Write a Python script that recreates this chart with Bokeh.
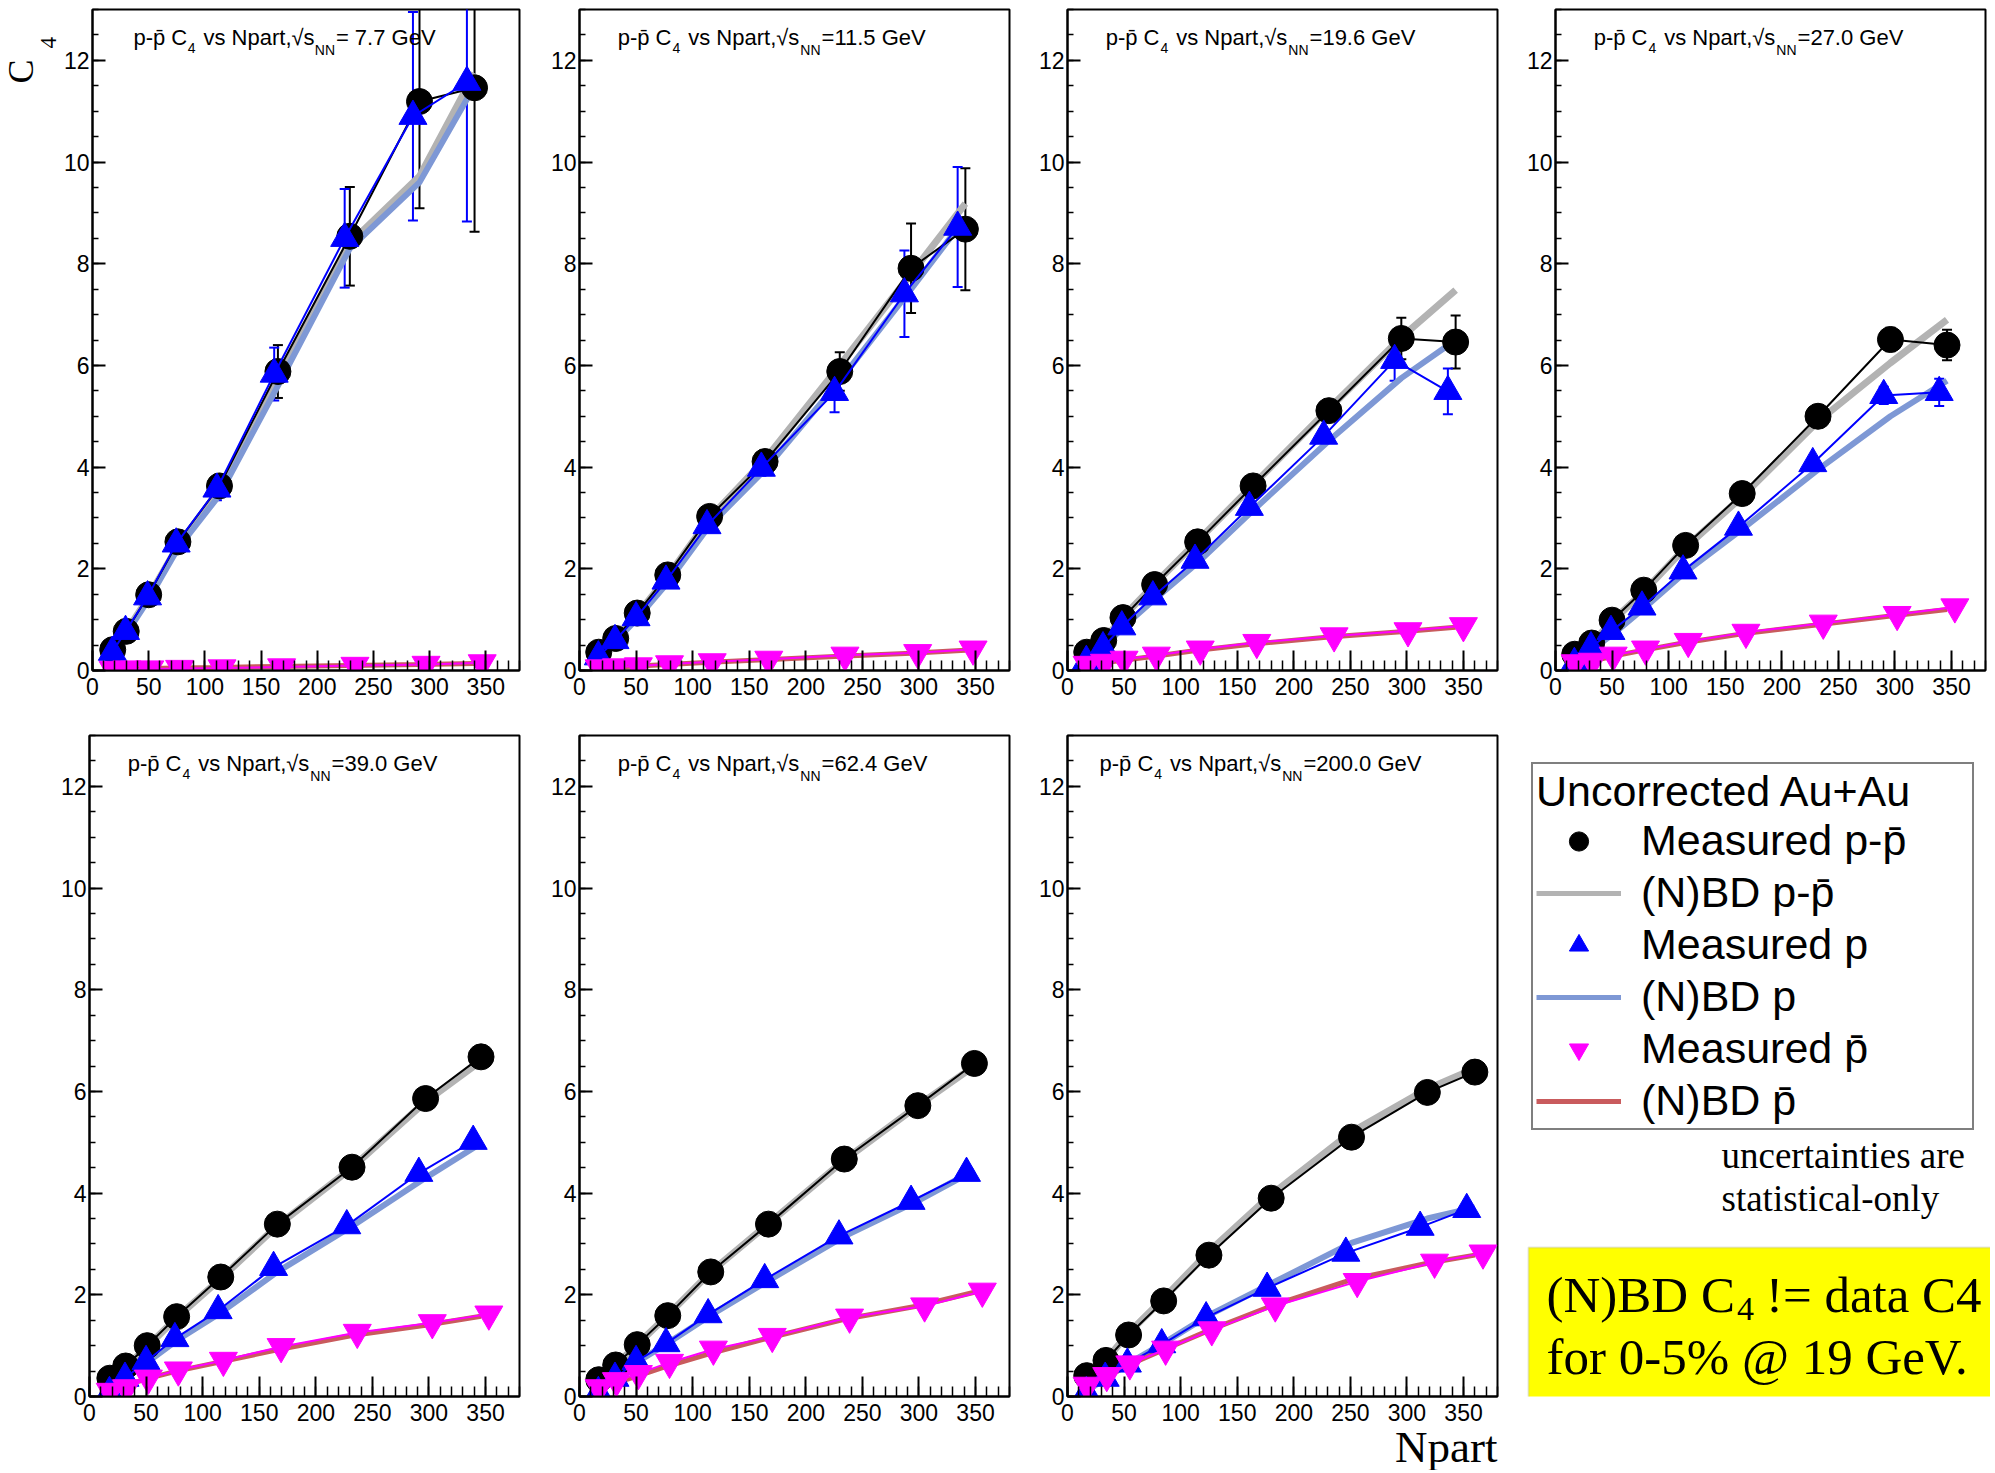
from bokeh.plotting import figure
from bokeh.models import (Range1d, SingleIntervalTicker, ColumnDataSource, Whisker,
                          TeeHead, Label, Legend, LegendItem, BoxAnnotation)
from bokeh.layouts import row, column
from bokeh.embed import file_html
from bokeh.resources import INLINE

# ------------------------------------------------------------------ data
energy_text = ["= 7.7 GeV", "=11.5 GeV", "=19.6 GeV", "=27.0 GeV",
               "=39.0 GeV", "=62.4 GeV", "=200.0 GeV"]

# sqrt(sNN) = 7.7 GeV
npart_7p7 = [18, 30, 50, 76, 113, 165, 229, 291, 340]
ppbar_7p7 = [0.41, 0.77, 1.49, 2.53, 3.63, 5.88, 8.54, 11.19, 11.46]
ppbar_err_7p7 = [0.03, 0.05, 0.08, 0.12, 0.22, 0.52, 0.97, 2.10, 2.83]
ppbar_nbd_7p7 = [0.40, 0.76, 1.45, 2.45, 3.50, 5.70, 8.40, 9.72, 11.75]
p_7p7 = [0.36, 0.77, 1.45, 2.49, 3.57, 5.83, 8.50, 10.90, 11.57]
p_err_7p7 = [0.03, 0.05, 0.08, 0.12, 0.22, 0.52, 0.97, 2.05, 2.74]
p_nbd_7p7 = [0.36, 0.72, 1.40, 2.40, 3.45, 5.60, 8.30, 9.60, 11.50]
pbar_7p7 = [0.02, 0.03, 0.03, 0.04, 0.05, 0.07, 0.10, 0.12, 0.15]
pbar_nbd_7p7 = [0.02, 0.03, 0.04, 0.05, 0.06, 0.08, 0.10, 0.12, 0.14]

# 11.5 GeV
npart_11p5 = [17, 32, 51, 78, 115, 164, 230, 293, 341]
ppbar_11p5 = [0.36, 0.63, 1.13, 1.88, 3.03, 4.11, 5.88, 7.91, 8.68]
ppbar_err_11p5 = [0.03, 0.04, 0.06, 0.08, 0.10, 0.12, 0.38, 0.88, 1.20]
ppbar_nbd_11p5 = [0.36, 0.63, 1.10, 1.85, 3.00, 4.15, 6.00, 7.80, 9.18]
p_11p5 = [0.27, 0.59, 1.04, 1.76, 2.85, 3.98, 5.47, 7.41, 8.72]
p_err_11p5 = [0.03, 0.04, 0.06, 0.08, 0.10, 0.15, 0.39, 0.85, 1.18]
p_nbd_11p5 = [0.27, 0.58, 1.02, 1.73, 2.85, 3.95, 5.70, 7.50, 8.90]
pbar_11p5 = [0.05, 0.07, 0.09, 0.13, 0.17, 0.22, 0.30, 0.35, 0.42]
pbar_nbd_11p5 = [0.05, 0.07, 0.09, 0.12, 0.16, 0.21, 0.28, 0.34, 0.40]

# 19.6 GeV
npart_19p6 = [17, 32, 49, 77, 115, 164, 231, 295, 343]
ppbar_19p6 = [0.36, 0.59, 1.04, 1.69, 2.53, 3.63, 5.11, 6.53, 6.46]
ppbar_err_19p6 = [0.02, 0.03, 0.04, 0.05, 0.07, 0.09, 0.14, 0.41, 0.52]
ppbar_nbd_19p6 = [0.36, 0.60, 1.05, 1.70, 2.55, 3.65, 5.15, 6.55, 7.48]
p_19p6 = [0.18, 0.45, 0.86, 1.45, 2.17, 3.21, 4.61, 6.10, 5.49]
p_err_19p6 = [0.02, 0.03, 0.04, 0.05, 0.07, 0.09, 0.13, 0.40, 0.45]
p_nbd_19p6 = [0.20, 0.45, 0.85, 1.40, 2.12, 3.15, 4.52, 5.75, 6.50]
pbar_19p6 = [0.12, 0.16, 0.22, 0.30, 0.42, 0.55, 0.68, 0.78, 0.88]
pbar_nbd_19p6 = [0.10, 0.15, 0.20, 0.28, 0.40, 0.52, 0.66, 0.76, 0.85]

# 27.0 GeV
npart_27 = [17, 32, 50, 78, 115, 165, 232, 296, 346]
ppbar_27 = [0.32, 0.54, 0.99, 1.58, 2.46, 3.48, 5.00, 6.51, 6.40]
ppbar_err_27 = [0.02, 0.03, 0.04, 0.05, 0.06, 0.08, 0.10, 0.23, 0.30]
ppbar_nbd_27 = [0.30, 0.54, 0.97, 1.55, 2.42, 3.42, 4.90, 6.05, 6.90]
p_27 = [0.14, 0.45, 0.77, 1.25, 1.96, 2.82, 4.07, 5.41, 5.47]
p_err_27 = [0.02, 0.03, 0.04, 0.05, 0.06, 0.08, 0.10, 0.17, 0.27]
p_nbd_27 = [0.14, 0.41, 0.70, 1.22, 1.94, 2.78, 3.95, 5.00, 5.70]
pbar_27 = [0.15, 0.18, 0.30, 0.42, 0.57, 0.75, 0.93, 1.10, 1.25]
pbar_nbd_27 = [0.12, 0.18, 0.28, 0.40, 0.55, 0.72, 0.90, 1.07, 1.20]

# 39.0 GeV
npart_39 = [18, 32, 51, 77, 116, 166, 232, 297, 346]
ppbar_39 = [0.36, 0.60, 1.00, 1.57, 2.35, 3.39, 4.51, 5.86, 6.68]
ppbar_err_39 = [0.02, 0.02, 0.03, 0.04, 0.05, 0.06, 0.08, 0.10, 0.12]
ppbar_nbd_39 = [0.33, 0.58, 0.98, 1.55, 2.32, 3.36, 4.50, 5.80, 6.60]
p_39 = [0.08, 0.36, 0.69, 1.14, 1.69, 2.54, 3.36, 4.39, 5.02]
p_err_39 = [0.02, 0.02, 0.03, 0.04, 0.05, 0.06, 0.07, 0.09, 0.11]
p_nbd_39 = [0.10, 0.35, 0.67, 1.10, 1.65, 2.45, 3.35, 4.30, 4.98]
pbar_39 = [0.10, 0.17, 0.36, 0.52, 0.71, 0.98, 1.26, 1.45, 1.62]
pbar_nbd_39 = [0.15, 0.22, 0.35, 0.50, 0.68, 0.92, 1.20, 1.40, 1.58]

# 62.4 GeV
npart_62 = [17, 32, 51, 78, 116, 167, 234, 299, 349]
ppbar_62 = [0.33, 0.62, 1.02, 1.59, 2.45, 3.39, 4.67, 5.72, 6.55]
ppbar_err_62 = [0.02, 0.02, 0.03, 0.04, 0.05, 0.06, 0.07, 0.08, 0.10]
ppbar_nbd_62 = [0.33, 0.62, 1.02, 1.60, 2.45, 3.40, 4.65, 5.72, 6.50]
p_62 = [0.08, 0.36, 0.69, 1.04, 1.61, 2.30, 3.16, 3.84, 4.39]
p_err_62 = [0.02, 0.02, 0.03, 0.04, 0.05, 0.06, 0.07, 0.08, 0.09]
p_nbd_62 = [0.10, 0.36, 0.68, 1.05, 1.60, 2.28, 3.15, 3.85, 4.45]
pbar_62 = [0.17, 0.31, 0.45, 0.67, 0.93, 1.18, 1.56, 1.78, 2.07]
pbar_nbd_62 = [0.17, 0.27, 0.40, 0.60, 0.85, 1.15, 1.52, 1.78, 2.05]

# 200.0 GeV
npart_200 = [17, 34, 54, 85, 125, 180, 251, 318, 360]
ppbar_200 = [0.41, 0.71, 1.21, 1.88, 2.78, 3.90, 5.10, 5.98, 6.38]
ppbar_err_200 = [0.02, 0.02, 0.03, 0.04, 0.05, 0.06, 0.07, 0.08, 0.09]
ppbar_nbd_200 = [0.40, 0.72, 1.25, 1.93, 2.85, 3.97, 5.20, 6.05, 6.45]
p_200 = [0.08, 0.36, 0.64, 1.02, 1.55, 2.13, 2.82, 3.33, 3.68]
p_err_200 = [0.02, 0.02, 0.03, 0.04, 0.05, 0.06, 0.07, 0.08, 0.09]
p_nbd_200 = [0.10, 0.37, 0.65, 1.05, 1.60, 2.22, 3.02, 3.50, 3.72]
pbar_200 = [0.22, 0.41, 0.64, 0.93, 1.31, 1.78, 2.26, 2.64, 2.82]
pbar_nbd_200 = [0.20, 0.38, 0.62, 0.92, 1.30, 1.78, 2.30, 2.62, 2.78]

panels = [
    (energy_text[0], npart_7p7, ppbar_7p7, ppbar_err_7p7, ppbar_nbd_7p7, p_7p7, p_err_7p7, p_nbd_7p7, pbar_7p7, pbar_nbd_7p7),
    (energy_text[1], npart_11p5, ppbar_11p5, ppbar_err_11p5, ppbar_nbd_11p5, p_11p5, p_err_11p5, p_nbd_11p5, pbar_11p5, pbar_nbd_11p5),
    (energy_text[2], npart_19p6, ppbar_19p6, ppbar_err_19p6, ppbar_nbd_19p6, p_19p6, p_err_19p6, p_nbd_19p6, pbar_19p6, pbar_nbd_19p6),
    (energy_text[3], npart_27, ppbar_27, ppbar_err_27, ppbar_nbd_27, p_27, p_err_27, p_nbd_27, pbar_27, pbar_nbd_27),
    (energy_text[4], npart_39, ppbar_39, ppbar_err_39, ppbar_nbd_39, p_39, p_err_39, p_nbd_39, pbar_39, pbar_nbd_39),
    (energy_text[5], npart_62, ppbar_62, ppbar_err_62, ppbar_nbd_62, p_62, p_err_62, p_nbd_62, pbar_62, pbar_nbd_62),
    (energy_text[6], npart_200, ppbar_200, ppbar_err_200, ppbar_nbd_200, p_200, p_err_200, p_nbd_200, pbar_200, pbar_nbd_200),
]

# ------------------------------------------------------------------ style / layout
GRAY = "#b3b3b3"
BLUE_M = "#7e98d5"
RED_M = "#c95b5d"
SANS = "Liberation Sans"
SERIF = "Liberation Serif"
SERIF_LIFT = 0.31          # baseline correction (in em) for serif labels
FRAME_W, FRAME_H = 430, 661
X_MAX, Y_MAX = 380, 13
SHIFT_P, SHIFT_PBAR = 0.98, 1.02   # ROOT-style horizontal offset of the graphs

ROW1_TB, ROW1_BB = 9, 45
ROW2_TB, ROW2_BB = 20, 34
STRIP_H, STRIP_OVERLAP = 52, 12

SANS_W = {'p': .556, '-': .333, '\u0304': 0, ' ': .278, 'C': .722, 'v': .5, 's': .5,
          'N': .722, 'a': .556, 'r': .333, 't': .278, ',': .278, '\u221a': .549,
          '=': .584, '.': .278, 'G': .778, 'e': .556, 'V': .667}
SERIF_W = {'(': .333, ')': .333, 'N': .722, 'B': .667, 'D': .722, ' ': .25, 'C': .667,
           '!': .333, '=': .564, 'd': .5, 'a': .444, 't': .278}


def lift(font, size):
    return SERIF_LIFT * size if font == SERIF else 0


def text_w(s, table, digit):
    return sum(table.get(ch, digit) for ch in s)


def rich(p, fx, fy, x0, base, pieces, font, size, sub_size, table, digit, center=None):
    """pieces: (text, is_subscript, gap_before_px, baseline_drop_px)"""
    widths = [text_w(t, table, digit) * (sub_size if sub else size) for t, sub, _, _ in pieces]
    total = sum(widths) + sum(g for _, _, g, _ in pieces)
    x = x0 if center is None else center - total / 2
    for (t, sub, g, d), w in zip(pieces, widths):
        x += g
        s = sub_size if sub else size
        p.add_layout(Label(x=fx(x), y=fy(base + d - lift(font, s)), text=t, text_font=font,
                           text_font_size=f"{s}px",
                           text_color="black", text_baseline="alphabetic", text_align="left"))
        x += w


def px_x(px):
    return px * X_MAX / FRAME_W


def px_y(py):
    return Y_MAX - py * Y_MAX / FRAME_H


def make_panel(panel, lb, rb, tb, bb):
    (etxt, npart, ppbar, ppbar_err, ppbar_nbd, pp, p_err, p_nbd, pbar, pbar_nbd) = panel
    p = figure(width=lb + FRAME_W + rb, height=tb + FRAME_H + bb,
               x_range=Range1d(0, X_MAX), y_range=Range1d(0, Y_MAX),
               min_border_left=lb, min_border_right=rb, min_border_top=tb, min_border_bottom=bb,
               toolbar_location=None, output_backend="svg",
               outline_line_color="black", outline_line_width=2)
    p.grid.visible = False
    p.xaxis.ticker = SingleIntervalTicker(interval=50, num_minor_ticks=5)
    p.yaxis.ticker = SingleIntervalTicker(interval=2, num_minor_ticks=4)
    for ax in (p.xaxis[0], p.yaxis[0]):
        ax.axis_line_width = 2
        ax.major_tick_out = 0
        ax.minor_tick_out = 0
        ax.major_tick_line_width = 2
        ax.minor_tick_line_width = 1.5
        ax.major_label_text_font = SANS
        ax.major_label_text_font_size = "23px"
        ax.major_label_text_color = "black"
    p.xaxis.major_tick_in = 20
    p.xaxis.minor_tick_in = 10
    p.xaxis.major_label_standoff = 7
    p.yaxis.major_tick_in = 13
    p.yaxis.minor_tick_in = 6
    p.yaxis.major_label_standoff = 3

    xp = [v * SHIFT_P for v in npart]
    xpb = [v * SHIFT_PBAR for v in npart]

    # (N)BD model curves
    p.line(npart, ppbar_nbd, line_color=GRAY, line_width=7)
    p.line(npart, p_nbd, line_color=BLUE_M, line_width=6)
    p.line(npart, pbar_nbd, line_color=RED_M, line_width=5)

    # statistical errors
    for xs, ys, es, col in ((npart, ppbar, ppbar_err, "black"), (xp, pp, p_err, "blue")):
        src = ColumnDataSource(dict(x=xs, lo=[y - e for y, e in zip(ys, es)],
                                    hi=[y + e for y, e in zip(ys, es)]))
        p.add_layout(Whisker(source=src, base="x", lower="lo", upper="hi", level="underlay",
                             line_color=col, line_width=2,
                             upper_head=TeeHead(size=10, line_color=col, line_width=2),
                             lower_head=TeeHead(size=10, line_color=col, line_width=2)))

    # measured
    p.line(npart, ppbar, line_color="black", line_width=2)
    p.scatter(npart, ppbar, marker="circle", size=26, fill_color="black", line_color="black")
    p.line(xp, pp, line_color="blue", line_width=2)
    p.scatter(xp, pp, marker="triangle", size=28, fill_color="blue", line_color="blue")
    p.line(xpb, pbar, line_color="magenta", line_width=2)
    p.scatter(xpb, pbar, marker="inverted_triangle", size=28, fill_color="magenta", line_color="magenta")

    pieces = [("p-p\u0304 C", False, 0, 0), ("4", True, 1, 10),
              ("vs Npart,\u221as", False, 8, 0), ("NN", True, 1, 12), (etxt, False, 1, 0)]
    rich(p, px_x, px_y, 0, 28, pieces, SANS, 22, 14, SANS_W, .556, center=193)
    return p


def blank(width, height, tb=0, bb=0, **kw):
    f = figure(width=width, height=height, x_range=Range1d(0, width),
               y_range=Range1d(0, height - tb - bb),
               x_axis_type=None, y_axis_type=None,
               min_border_left=0, min_border_right=0, min_border_top=tb, min_border_bottom=bb,
               toolbar_location=None, output_backend="svg", outline_line_color=None, **kw)
    f.grid.visible = False
    return f


# frame left edges at 89, 579, 1067, 1555 (page pixels)
C4_W = 60
LB_TOP = [89 - C4_W, 50, 48, 48]
LB_BOT = [89, 50, 48, 48]
RB = [10, 10, 10, 5]
figs = []
for i, pn in enumerate(panels):
    r, c = divmod(i, 4)
    if r == 0:
        figs.append(make_panel(pn, LB_TOP[c], RB[c], ROW1_TB, ROW1_BB))
    else:
        figs.append(make_panel(pn, LB_BOT[c], RB[c], ROW2_TB, ROW2_BB))

# y-axis title "C4" (strip left of the first panel, frame spans page y 9..670)
f0 = blank(C4_W, ROW1_TB + FRAME_H + ROW1_BB, ROW1_TB, ROW1_BB)
f0.add_layout(Label(x=32 - lift(SERIF, 36), y=670 - 83, text="C", angle=90, angle_units="deg",
                    text_font=SERIF, text_font_size="36px", text_color="black",
                    text_baseline="alphabetic"))
f0.add_layout(Label(x=55 - lift(SERIF, 23), y=670 - 48, text="4", angle=90, angle_units="deg",
                    text_font=SERIF, text_font_size="23px", text_color="black",
                    text_baseline="alphabetic"))

# ------------------------------------------------------------------ legend / notes panel
W8 = 1990 - 1507
H8 = ROW2_TB + FRAME_H + ROW2_BB
f8 = blank(W8, H8, ROW2_TB, ROW2_BB)
FB8 = 1396   # page y of the frame bottom


def gx(px):
    return px - 1507


def gy(py):
    return FB8 - py


r_c = f8.scatter([-50], [-50], marker="circle", size=26, fill_color="black", line_color="black")
r_g = f8.line([-60, -50], [-50, -50], line_color=GRAY, line_width=5)
r_t = f8.scatter([-50], [-50], marker="triangle", size=28, fill_color="blue", line_color="blue")
r_b = f8.line([-60, -50], [-50, -50], line_color=BLUE_M, line_width=5)
r_i = f8.scatter([-50], [-50], marker="inverted_triangle", size=28, fill_color="magenta", line_color="magenta")
r_r = f8.line([-60, -50], [-50, -50], line_color=RED_M, line_width=5)

legend = Legend(items=[
    LegendItem(label="Measured p-p\u0304", renderers=[r_c]),
    LegendItem(label="(N)BD p-p\u0304", renderers=[r_g]),
    LegendItem(label="Measured p", renderers=[r_t]),
    LegendItem(label="(N)BD p", renderers=[r_b]),
    LegendItem(label="Measured p\u0304", renderers=[r_i]),
    LegendItem(label="(N)BD p\u0304", renderers=[r_r]),
], title="Uncorrected Au+Au", location=(1531 - 1507, FB8 - 1130), margin=0, padding=3,
    title_text_font=SANS, title_text_font_size="43px", title_text_font_style="normal",
    title_text_color="black", title_standoff=0,
    label_text_font=SANS, label_text_font_size="43px", label_text_color="black",
    glyph_width=85, glyph_height=48, label_standoff=20, spacing=3, label_width=328,
    border_line_color="black", border_line_width=2, background_fill_alpha=1)
f8.add_layout(legend)

for txt, base in (("uncertainties are", 1166), ("statistical-only", 1209)):
    f8.add_layout(Label(x=gx(1721), y=gy(base - lift(SERIF, 37)), text=txt, text_font=SERIF,
                        text_font_size="37px", text_color="black", text_baseline="alphabetic"))

f8.add_layout(BoxAnnotation(left=gx(1528), right=W8 + 20, top=gy(1247), bottom=gy(1400),
                            fill_color="#ffff00", fill_alpha=1,
                            line_color="#a8a8a8", line_width=2, level="underlay"))
rich(f8, gx, gy, 1546, 1310,
     [("(N)BD C", False, 0, 0), ("4", True, 2, 9), ("!= data C4", False, 12, 0)],
     SERIF, 51, 34, SERIF_W, .5)
f8.add_layout(Label(x=gx(1546), y=gy(1372 - lift(SERIF, 51)), text="for 0-5% @ 19 GeV.",
                    text_font=SERIF, text_font_size="51px", text_color="black",
                    text_baseline="alphabetic"))

# x-axis title "Npart": transparent strip pulled up a little under the bottom row
ROW3_BOTTOM = ROW1_TB + FRAME_H + ROW1_BB + H8 + STRIP_H - STRIP_OVERLAP
f9 = blank(1507, STRIP_H, background_fill_alpha=0, border_fill_alpha=0)
f9.margin = (-STRIP_OVERLAP, 0, 0, 0)
f9.add_layout(Label(x=1497, y=ROW3_BOTTOM - (1460 - lift(SERIF, 45)), text="Npart",
                    text_align="right", text_font=SERIF, text_font_size="45px",
                    text_color="black", text_baseline="alphabetic"))

layout = column(row(f0, *figs[:4]), row(*figs[4:], f8), row(f9))
open("out.html", "w").write(file_html(layout, INLINE))
